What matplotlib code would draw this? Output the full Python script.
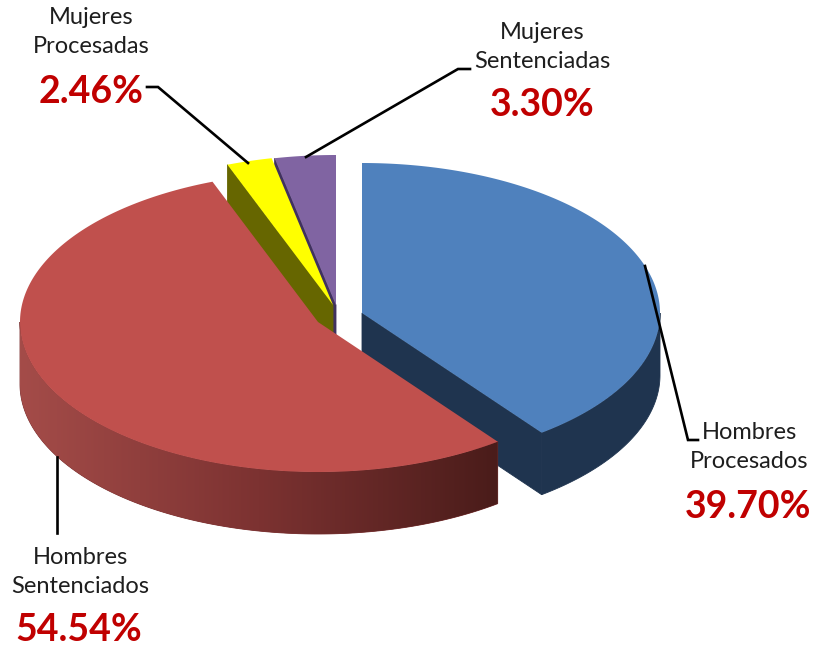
"""Exploded 3D-style pie: procesados / sentenciados by sex."""

import matplotlib
matplotlib.use("Agg")
import matplotlib.pyplot as plt
import numpy as np
from matplotlib.colors import LinearSegmentedColormap
from matplotlib.patches import Polygon

names = ["Hombres\nProcesados", "Hombres\nSentenciados", "Mujeres\nProcesadas", "Mujeres\nSentenciadas"]
values = [39.70, 54.54, 2.46, 3.30]
top_colors = ["#4f81bd", "#c0504d", "#ffff00", "#8064a2"]
side_colors = ["#1f344f", "#7a3030", "#666600", "#40315f"]

plt.rcParams["font.family"] = ["Lato", "DejaVu Sans"]

# layout, in pixels of the 813x650 picture
CENTERS = [(362, 313), (318, 322), (333, 305), (336, 305)]
RX, RY, DEPTH = 298, 150, 62
DRAW_ORDER = [3, 2, 0, 1]


def rim(center, a0, a1, n=200):
    t = np.radians(np.linspace(a0, a1, n))
    return np.column_stack([center[0] + RX * np.sin(t), center[1] - RY * np.cos(t)])


fig = plt.figure(figsize=(8.13, 6.5), dpi=100)
ax = fig.add_axes([0, 0, 1, 1])

ends = np.cumsum(values) / np.sum(values) * 360
starts = np.concatenate([[0], ends[:-1]])
down = np.array([0, DEPTH])
red_side = LinearSegmentedColormap.from_list("red_side", ["#a44c49", "#7c3231", "#4a1c1a"])

for i in DRAW_ORDER:
    c = np.array(CENTERS[i], dtype=float)
    a0, a1 = starts[i], ends[i]
    pts = rim(c, a0, a1)

    # cut faces (only the ones turned to the viewer)
    if a0 > 180:
        p = pts[0]
        ax.add_patch(Polygon([p, c, c + down, p + down], fc=side_colors[i], ec=side_colors[i], lw=0.6))
    if a1 < 180:
        p = pts[-1]
        ax.add_patch(Polygon([c, p, p + down, c + down], fc=side_colors[i], ec=side_colors[i], lw=0.6))

    # outer wall, front half of the ellipse only
    w0, w1 = max(a0, 90), min(a1, 270)
    if w1 > w0:
        arc = rim(c, w0, w1)
        wall = Polygon(np.vstack([arc, (arc + down)[::-1]]), fc=side_colors[i], ec=side_colors[i], lw=0.6)
        ax.add_patch(wall)
        if i == 1:
            # horizontal shading, dark at the cut end
            x0, x1 = arc[:, 0].min(), arc[:, 0].max()
            y0, y1 = arc[:, 1].min(), arc[:, 1].max() + DEPTH
            im = ax.imshow(np.linspace(0, 1, 256).reshape(1, -1), cmap=red_side, aspect="auto",
                           extent=[x0, x1, y1, y0], zorder=1.5)
            wall.set_zorder(1.5)
            im.set_clip_path(wall)

    top = Polygon(np.vstack([c, pts]), fc=top_colors[i], ec="none", zorder=2 + DRAW_ORDER.index(i))
    ax.add_patch(top)

# leader lines
leaders = [
    [(645, 266), (688, 440), (698, 440)],
    [(57, 457), (57, 533)],
    [(147, 87), (158, 87), (248, 163)],
    [(470, 69), (458, 69), (306, 157)],
]
for line in leaders:
    xs, ys = zip(*line)
    ax.plot(xs, ys, color="black", lw=1.9, zorder=8, solid_joinstyle="miter")

# name centre, percentage centre
name_pos = [(749, 447), (80, 572), (91, 32), (542, 47)]
pct_pos = [(748, 507), (79, 630), (91, 92), (542, 105)]
for name, val, np_, pp in zip(names, values, name_pos, pct_pos):
    ax.text(np_[0], np_[1], name, ha="center", va="center", fontsize=17, color="#1e1e1e",
            linespacing=1.5, zorder=9)
    ax.text(pp[0], pp[1], f"{val:.2f}%", ha="center", va="center", fontsize=27,
            fontweight="bold", color="#c00000", zorder=9)

ax.set_xlim(0, 813)
ax.set_ylim(650, 0)
ax.axis("off")

fig.savefig("out.png", dpi=100, facecolor="white")
